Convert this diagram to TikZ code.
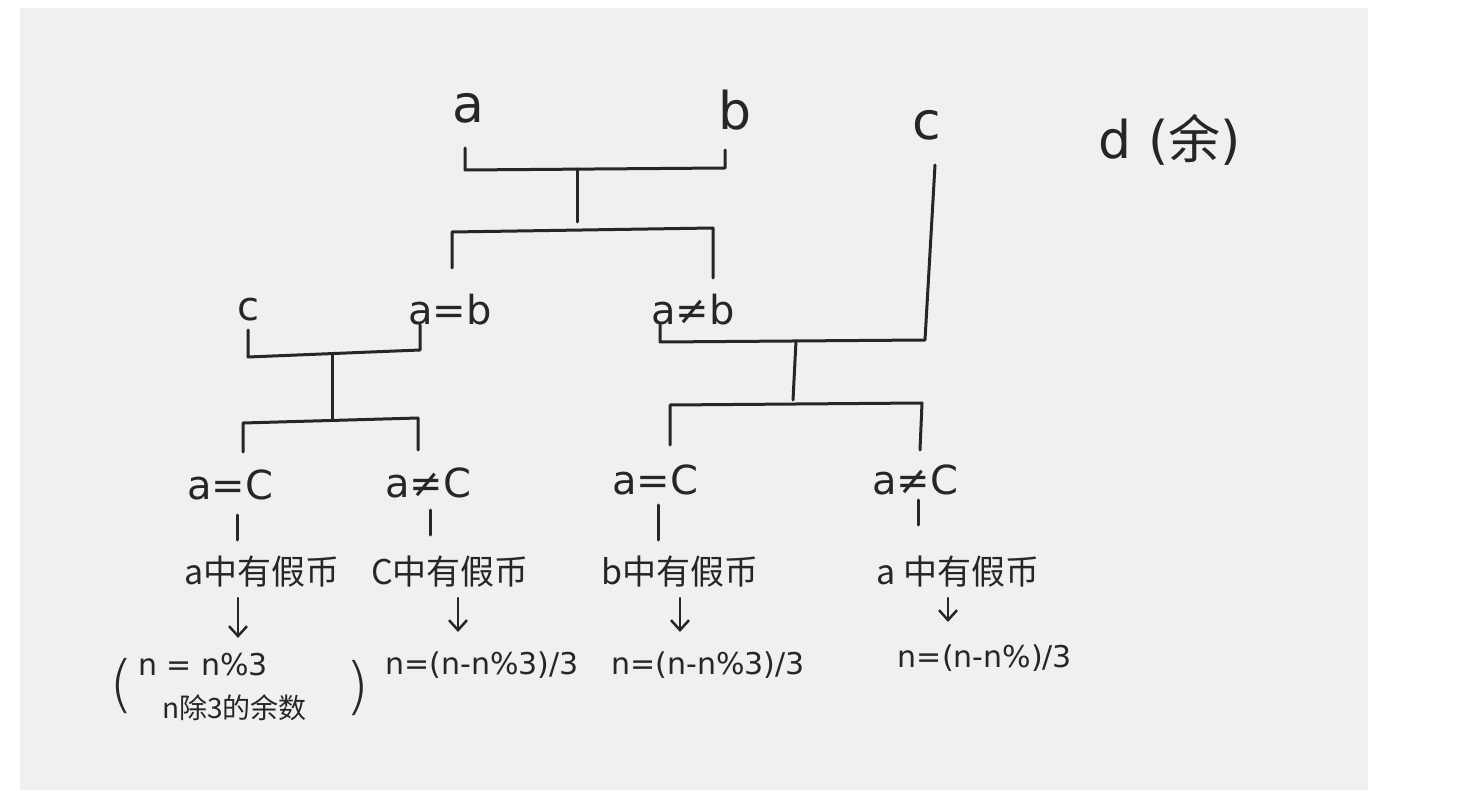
\documentclass[tikz,border=0pt]{standalone}
\usepackage{fontspec}
\setmainfont{DejaVu Sans}
\newfontfamily\cjk{Noto Sans CJK SC}
\usetikzlibrary{arrows.meta}
\begin{document}
\begin{tikzpicture}[x=1pt,y=-1pt,
  ink/.style={draw=black!85,line width=3pt,line cap=round,line join=round},
  big/.style={text=black!85,font=\fontsize{52}{56}\selectfont,inner sep=0pt},
  lbl/.style={text=black!85,font=\fontsize{40}{44}\selectfont,inner sep=0pt},
  sm/.style={text=black!85,font=\fontsize{30}{34}\selectfont,inner sep=0pt},
  cn/.style={text=black!85,font=\cjk\fontsize{34}{38}\selectfont,inner sep=0pt},
  cns/.style={text=black!85,font=\cjk\fontsize{28}{32}\selectfont,inner sep=0pt},
  par/.style={text=black!85,font=\fontsize{62}{66}\selectfont\fontspec{DejaVu Sans ExtraLight},inner sep=0pt},
  arr/.style={ink,line width=2.5pt,-{Straight Barb[length=10pt,width=18pt]}}]
\useasboundingbox (0,0) rectangle (1464,791);
\fill[white] (0,0) rectangle (1464,791);
\fill[black!6] (20,8) rectangle (1368,790);
% top labels
\node[big] (a) at (468,108) {a};
\node[big] (b) at (735,110) {b};
\node[big] (c) at (927,125) {c};
\node[big] (d) at (1170,140) {d ({\cjk 余})};
% bracket 1
\coordinate (a1) at (465,148); \coordinate (a2) at (465,170);
\coordinate (b1) at (725,150); \coordinate (b2) at (725,168);
\coordinate (m1) at (577,169); \coordinate (m2) at (577,222);
\coordinate (l1) at (452,232); \coordinate (l2) at (452,268);
\coordinate (r1) at (713,228); \coordinate (r2) at (713,278);
\draw[ink] (a1)--(a2)--(b2)--(b1);
\draw[ink] (m1)--(m2);
\draw[ink] (l2)--(l1)--(r1)--(r2);
% level 2 labels
\node[lbl] (c2) at (248,310) {c};
\node[lbl] (ab) at (450,310) {a=b};
\node[lbl] (anb) at (693,310) {a≠b};
% bracket 2
\coordinate (p1) at (248,330); \coordinate (p2) at (248,357);
\coordinate (q1) at (420,325); \coordinate (q2) at (420,350);
\coordinate (n1) at (332,354); \coordinate (n2) at (332,420);
\coordinate (s1) at (243,423); \coordinate (s2) at (243,452);
\coordinate (t1) at (418,418); \coordinate (t2) at (418,450);
\draw[ink] (p1)--(p2)--(q2)--(q1);
\draw[ink] (n1)--(n2);
\draw[ink] (s2)--(s1)--(t1)--(t2);
% bracket 3
\coordinate (u1) at (660,325); \coordinate (u2) at (660,342);
\coordinate (v1) at (935,165); \coordinate (v2) at (925,340);
\coordinate (w1) at (796,341); \coordinate (w2) at (793,400);
\coordinate (x1) at (670,405); \coordinate (x2) at (670,445);
\coordinate (y1) at (922,403); \coordinate (y2) at (920,450);
\draw[ink] (u1)--(u2)--(v2)--(v1);
\draw[ink] (w1)--(w2);
\draw[ink] (x2)--(x1)--(y1)--(y2);
% level 3 labels
\node[lbl] (e1) at (230,485) {a=C};
\node[lbl] (e2) at (428,483) {a≠C};
\node[lbl] (e3) at (655,480) {a=C};
\node[lbl] (e4) at (915,480) {a≠C};
\draw[ink] (237,515)--(237,540);
\draw[ink] (430,510)--(430,535);
\draw[ink] (658,505)--(658,540);
\draw[ink] (918,500)--(918,525);
% chinese labels
\node[cn] (f1) at (262,572) {a中有假币};
\node[cn] (f2) at (450,572) {C中有假币};
\node[cn] (f3) at (680,572) {b中有假币};
\node[cn] (f4) at (958,572) {a 中有假币};
\draw[arr] (238,598) -- (238,638);
\draw[arr] (458,598) -- (458,632);
\draw[arr] (680,598) -- (680,632);
\draw[arr] (948,598) -- (948,622);
% formulas
\node[par] (lp) at (122,686) {(};
\node[par] (rp) at (358,688) {)};
\node[sm,anchor=west] (g1) at (138,665) {n = n\%3};
\node[cns,anchor=west] (g2) at (162,708) {n除3的余数};
\node[sm] (g3) at (482,665) {n=(n-n\%3)/3};
\node[sm] (g4) at (708,665) {n=(n-n\%3)/3};
\node[sm] (g5) at (985,658) {n=(n-n\%)/3};
\end{tikzpicture}
\end{document}
